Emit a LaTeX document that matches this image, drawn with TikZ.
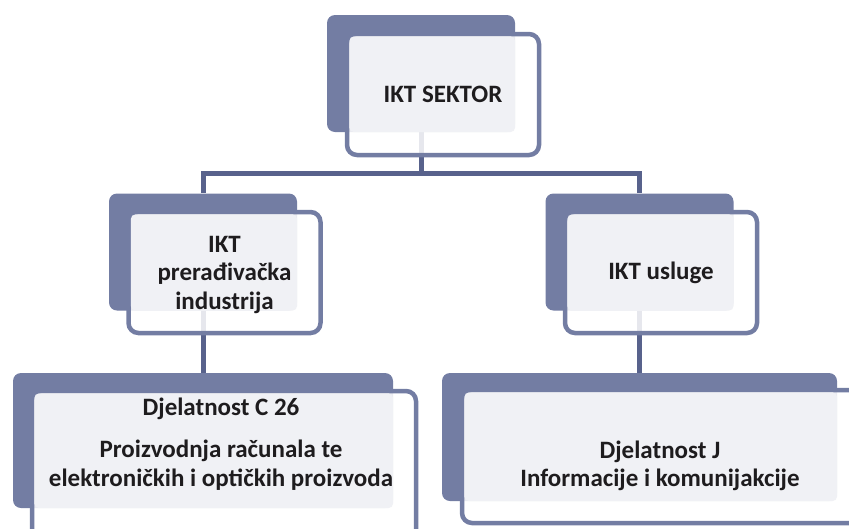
\documentclass[tikz,border=0pt]{standalone}
\usepackage{fontspec}
\setmainfont{Carlito}
\usepackage{xcolor}
\usetikzlibrary{positioning, backgrounds}
\definecolor{slateanno}{RGB}{115,125,163}
\definecolor{linkanno}{RGB}{88,98,140}
\definecolor{paneanno}{RGB}{240,241,245}
\definecolor{inkanno}{RGB}{30,28,30}

\tikzset{
  backbox/.style={fill=slateanno, rounded corners=8pt, minimum width=188pt, minimum height=117pt, inner sep=0pt},
  framebox/.style={draw=slateanno, line width=4.5pt, fill=white, fill opacity=0.85, rounded corners=10pt, minimum width=192pt, minimum height=121pt, inner sep=0pt},
  pane/.style={fill=paneanno, rounded corners=5pt},
  boxtext/.style={font=\fontsize{25}{28.5}\selectfont\bfseries, text=inkanno, align=center},
  link/.style={draw=linkanno, line width=5pt}
}

\begin{document}
\begin{tikzpicture}[x=1pt, y=-1pt]
\useasboundingbox (0,0) rectangle (849,528);
\clip (0,0) rectangle (849,528);
% top level
\node[backbox] (sektorback) at (421,73.5) {};
\node[framebox] (sektorframe) at (443,94.5) {};
% middle level
\node[backbox] (procback) at (203,252) {};
\node[framebox] (procframe) at (224.5,272.5) {};
\node[backbox] (uslback) at (639.5,252) {};
\node[framebox] (uslframe) at (661,272.5) {};
% bottom level
\node[backbox, minimum width=380pt, minimum height=135pt] (c26back) at (203,440.5) {};
\node[framebox, minimum width=384pt, minimum height=152pt] (c26frame) at (224,467) {};
\node[backbox, minimum width=395pt, minimum height=128pt] (jback) at (639.5,437) {};
\node[framebox, minimum width=398pt, minimum height=133pt] (jframe) at (661,456.5) {};
% light panes
\foreach \u in {sektor,proc,usl,c26,j}
  \fill[pane] ([shift={(4.5,4.5)}]\u frame.north west) rectangle (\u back.south east);
% texts
\node[boxtext] (sektortext) at (sektorframe.center) {IKT SEKTOR};
\node[boxtext] (proctext) at (224.5,275) {IKT\\prerađivačka\\industrija};
\node[boxtext] (usltext) at (uslframe.center) {IKT usluge};
\node[boxtext] (c26text) at (221,444) {Djelatnost C 26\\[14pt]Proizvodnja računala te\\elektroničkih i optičkih proizvoda};
\node[boxtext] (jtext) at (660,466) {Djelatnost J\\Informacije i komunijakcije};
% connectors
\begin{pgfonlayer}{background}
\coordinate[below=41pt of sektorback.south] (bus);
\draw[link] (sektorback.south) -- (bus) -| (procback.north);
\draw[link] (bus) -| (uslback.north);
\draw[link] (procback.south) -- (c26back.north);
\draw[link] (uslback.south) -- (jback.north);
\end{pgfonlayer}
\end{tikzpicture}
\end{document}
